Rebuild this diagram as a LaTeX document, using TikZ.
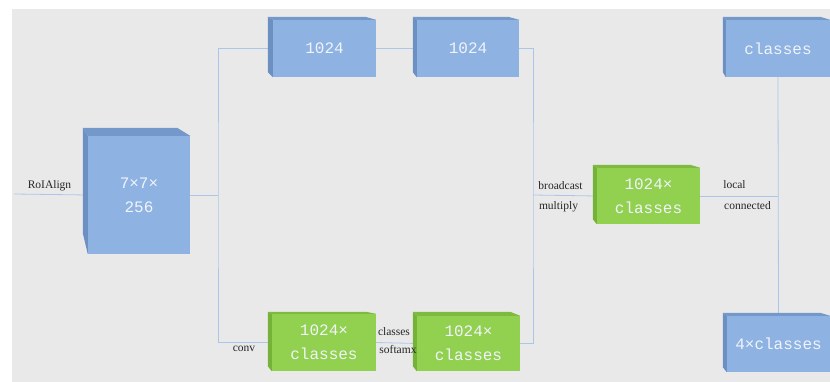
\documentclass[tikz,border=0pt]{standalone}
\usepackage{fontspec}
\setmainfont{Liberation Serif}
\newfontfamily\boxfont{Liberation Mono}
\usetikzlibrary{calc}
\definecolor{bgg}{RGB}{233,233,233}
\definecolor{bfront}{RGB}{142,178,226}
\definecolor{btop}{RGB}{116,152,202}
\definecolor{bside}{RGB}{108,144,194}
\definecolor{gfront}{RGB}{146,208,80}
\definecolor{gtop}{RGB}{126,186,64}
\definecolor{gside}{RGB}{118,178,58}
\definecolor{wire}{RGB}{172,198,234}
\definecolor{btxt}{RGB}{240,244,250}
\tikzset{
  cube/.style={inner sep=0pt, align=center, text=btxt, font=\boxfont\fontsize{16}{24}\selectfont},
  bluebox/.style={cube, fill=bfront},
  greenbox/.style={cube, fill=gfront},
  lbl/.style={inner sep=0pt, font=\fontsize{11.5}{13}\selectfont, text=black!85},
  wireline/.style={draw=wire, line width=0.8pt}
}
\newcommand\boxsides[7]{%
  \fill[#6] (#1.north west) -- (#1.north east) -- ($(#1.north east)+(-#4,-#3)$) -- ($(#1.north west)+(-#2,-#3)$) -- cycle;
  \fill[#7] (#1.north west) -- ($(#1.north west)+(-#2,-#3)$) -- ($(#1.south west)+(-#2,-#5)$) -- (#1.south west) -- cycle;
}
\begin{document}
\begin{tikzpicture}[x=1pt,y=-1pt]
\useasboundingbox (0,0) rectangle (830,382);
\fill[bgg] (12,9) rectangle (830,382);

% front faces (nodes)
\node[bluebox, minimum width=102pt, minimum height=118pt] (A) at (139,195) {7×7×\\256};
\node[bluebox, minimum width=103pt, minimum height=57pt] (b1) at (324.5,48.5) {1024};
\node[bluebox, minimum width=102pt, minimum height=57pt] (b2) at (468,48.5) {1024};
\node[greenbox, minimum width=104pt, minimum height=57pt] (b3) at (324,342.5) {1024×\\classes};
\node[greenbox, minimum width=103pt, minimum height=55pt] (b4) at (468.5,343.5) {1024×\\classes};
\node[greenbox, minimum width=103pt, minimum height=56pt] (g) at (648.5,196) {1024×\\classes};
\node[bluebox, minimum width=104pt, minimum height=57pt] (c1) at (778,48.5) {classes};
\node[bluebox, minimum width=103pt, minimum height=56pt] (c2) at (778.5,344) {4×classes};

% connectors
\coordinate (in) at (14,194);
\coordinate (j1) at (218,195);
\coordinate (j2) at (533,195);
\begin{scope}[wireline]
\draw (in) -- (A.west);
\draw (A.east) -- (j1);
\draw (b1.west) -| (j1) |- (b3.west);
\draw (b1.east) -- (b2.west);
\draw (b3.east) -- (b4.west);
\draw (b2.east) -| (j2) |- (b4.east);
\draw (j2) -- (g.west);
\draw (g.east) -- (g.east -| c1.south);
\draw (c1.south) -- (c2.north);
\end{scope}

% side and top faces
\boxsides{A}{5}{8}{13}{21}{btop}{bside}
\boxsides{b1}{5}{3}{11}{5}{btop}{bside}
\boxsides{b2}{4}{3}{11}{5}{btop}{bside}
\boxsides{b3}{4}{2}{10}{5}{gtop}{gside}
\boxsides{b4}{4}{4}{10}{5}{gtop}{gside}
\boxsides{g}{4}{3}{10}{5}{gtop}{gside}
\boxsides{c1}{3}{3}{10}{5}{btop}{bside}
\boxsides{c2}{4}{3}{10}{5}{btop}{bside}

% labels
\node[lbl] (lroi) at (49.5,186) {RoIAlign};
\node[lbl] (lconv) at (244,349) {conv};
\node[lbl] (lcls) at (394,332) {classes};
\node[lbl] (lsm) at (398,350) {softamx};
\node[lbl] (lbc) at (560.5,186) {broadcast};
\node[lbl] (lmul) at (558.5,207) {multiply};
\node[lbl] (lloc) at (734.5,185) {local};
\node[lbl] (lcon) at (747.5,206) {connected};
\end{tikzpicture}
\end{document}
